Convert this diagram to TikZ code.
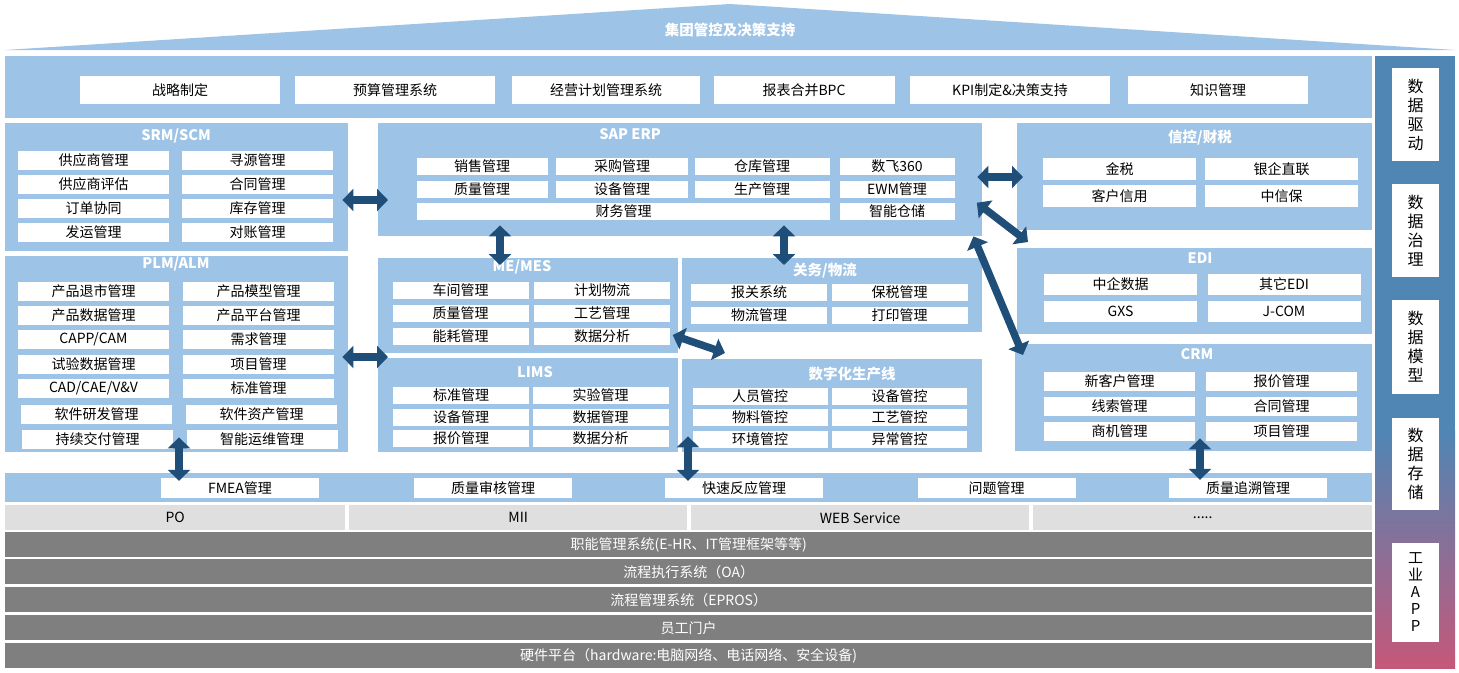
\documentclass[tikz,border=0pt]{standalone}
\usepackage{fontspec}
\setmainfont{Noto Sans CJK SC}
\usetikzlibrary{arrows.meta}

\definecolor{panelblue}{HTML}{9DC3E6}
\definecolor{arrowblue}{HTML}{1F4E79}
\definecolor{colblue}{HTML}{4F86B4}
\definecolor{colpink}{HTML}{C5587A}
\definecolor{ifgray}{HTML}{DFDFDF}
\definecolor{bargray}{HTML}{7F7F7F}

\newcommand{\cellfont}{\fontsize{14}{15}\selectfont}
\newcommand{\tip}{Triangle[length=11pt,width=22pt]}

\tikzset{
  panel/.style={fill=panelblue, inner sep=0pt, anchor=north west},
  ttl/.style={text=white, inner sep=0pt, font=\fontsize{14.5}{16}\selectfont\bfseries},
  cell/.style={fill=white, inner sep=0pt, font=\cellfont},
  vcell/.style={fill=white, inner sep=0pt, minimum width=47pt, align=center,
    font=\fontsize{16}{19}\selectfont},
  iface/.style={fill=ifgray, inner sep=0pt, anchor=north west, minimum height=25pt,
    font=\fontsize{14}{16}\selectfont},
  layer/.style={fill=bargray, inner sep=0pt, anchor=north west, minimum width=1367pt,
    minimum height=25pt, text=white, font=\fontsize{14}{16}\selectfont},
  link/.style={draw=arrowblue, fill=arrowblue, line width=7.5pt, arrows={\tip-\tip}}
}

\begin{document}
\begin{tikzpicture}[x=1pt,y=-1pt]
  \useasboundingbox (0,0) rectangle (1459,672);

  % roof
  \fill[panelblue] (5,50) -- (730,4) -- (1455,50) -- cycle;
  \node[ttl] (roof) at (730,30) {集团管控及决策支持};

  % strategy bar
  \node[panel, minimum width=1367pt, minimum height=62pt] (strat) at (5,56) {};
  \foreach \n/\x/\w/\t in {1/180/200/战略制定, 2/395/200/预算管理系统, 3/606/188/经营计划管理系统,
      4/804/181/报表合并BPC, 5/1010/200/KPI制定\&决策支持, 6/1218/180/知识管理}
    \node[cell, minimum width=\w pt, minimum height=28pt] (st\n) at (\x,90) {\t};

  % data column
  \fill[colblue] (1375,56) rectangle (1455,430);
  \shade[top color=colblue, bottom color=colpink] (1375,430) rectangle (1455,668);
  \node[vcell, minimum height=93pt] (drv) at (1415.5,114.5) {数\\据\\驱\\动};
  \node[vcell, minimum height=93pt] (gov) at (1415.5,230.5) {数\\据\\治\\理};
  \node[vcell, minimum height=94pt] (mdl) at (1415.5,347) {数\\据\\模\\型};
  \node[vcell, minimum height=92pt] (sto) at (1415.5,464) {数\\据\\存\\储};
  \node[vcell, minimum height=99pt, font=\fontsize{15}{17}\selectfont] (app) at (1415.5,592.5) {工\\业\\A\\P\\P};

  % SRM/SCM
  \node[panel, minimum width=343pt, minimum height=128pt] (srm) at (5,123) {};
  \node[ttl] (srmT) at (176,136) {SRM/SCM};
  \foreach \n/\x/\y/\t in {1/93.5/160.5/供应商管理, 2/257.5/160.5/寻源管理,
      3/93.5/184/供应商评估, 4/257.5/184/合同管理, 5/93.5/208.5/订单协同, 6/257.5/208.5/库存管理,
      7/93.5/232.5/发运管理, 8/257.5/232.5/对账管理}
    \node[cell, minimum width=151pt, minimum height=19pt] (srm\n) at (\x,\y) {\t};

  % PLM/ALM
  \node[panel, minimum width=343pt, minimum height=196pt] (plm) at (5,256) {};
  \node[ttl] (plmT) at (176,264) {PLM/ALM};
  \foreach \n/\x/\y/\t in {1/93.5/291/产品退市管理, 2/258.5/291/产品模型管理,
      3/93.5/315.5/产品数据管理, 4/258.5/315.5/产品平台管理, 5/93.5/339.5/{CAPP/CAM}, 6/258.5/339.5/需求管理,
      7/93.5/364/试验数据管理, 8/258.5/364/项目管理, 9/93.5/388.5/{CAD/CAE/V\&V}, 10/258.5/388.5/标准管理,
      11/96.5/414/软件研发管理, 12/261.5/414/软件资产管理, 13/97.5/439.5/持续交付管理, 14/262/439.5/智能运维管理}
    \node[cell, minimum width=151pt, minimum height=19pt] (plm\n) at (\x,\y) {\t};

  % SAP ERP
  \node[panel, minimum width=604pt, minimum height=113pt] (erp) at (378,123) {};
  \node[ttl] (erpT) at (630,134) {SAP ERP};
  \foreach \n/\x/\y/\w/\t in {1/482/166/131/销售管理, 2/622/166/132/采购管理, 3/762/166/135/仓库管理,
      4/897/166/115/数飞360, 5/482/189/131/质量管理, 6/622/189/132/设备管理, 7/762/189/135/生产管理,
      8/897/189/115/EWM管理, 9/623.5/211.5/413/财务管理, 10/897/211.5/115/智能仓储}
    \node[cell, minimum width=\w pt, minimum height=17pt] (erp\n) at (\x,\y) {\t};

  % ME/MES
  \node[panel, minimum width=300pt, minimum height=95pt] (mes) at (378,258) {};
  \node[ttl] (mesT) at (522,267) {ME/MES};
  \foreach \n/\x/\y/\t in {1/460.5/290.5/车间管理, 2/602/290.5/计划物流, 3/460.5/313.5/质量管理,
      4/602/313.5/工艺管理, 5/460.5/336.5/能耗管理, 6/602/336.5/数据分析}
    \node[cell, minimum width=136pt, minimum height=17pt] (mes\n) at (\x,\y) {\t};

  % customs / logistics
  \node[panel, minimum width=300pt, minimum height=74pt] (cus) at (682,258) {};
  \node[ttl] (cusT) at (825,271) {关务/物流};
  \foreach \n/\x/\y/\t in {1/759/292.5/报关系统, 2/899.5/292.5/保税管理, 3/759/315/物流管理, 4/899.5/315/打印管理}
    \node[cell, minimum width=136pt, minimum height=17pt] (cus\n) at (\x,\y) {\t};

  % LIMS
  \node[panel, minimum width=300pt, minimum height=94pt] (lims) at (378,358) {};
  \node[ttl] (limsT) at (535,372) {LIMS};
  \foreach \n/\x/\y/\t in {1/461/395.5/标准管理, 2/600.5/395.5/实验管理, 3/461/417.5/设备管理,
      4/600.5/417.5/数据管理, 5/461/438.5/报价管理, 6/600.5/438.5/数据分析}
    \node[cell, minimum width=136pt, minimum height=17pt] (lims\n) at (\x,\y) {\t};

  % digital line
  \node[panel, minimum width=300pt, minimum height=93pt] (dig) at (682,359) {};
  \node[ttl] (digT) at (852,374) {数字化生产线};
  \foreach \n/\x/\y/\t in {1/760/396/人员管控, 2/899.5/396/设备管控, 3/760/417.5/物料管控,
      4/899.5/417.5/工艺管控, 5/760/439/环境管控, 6/899.5/439/异常管控}
    \node[cell, minimum width=135pt, minimum height=17pt] (dig\n) at (\x,\y) {\t};

  % credit / tax
  \node[panel, minimum width=355pt, minimum height=107pt] (fin) at (1017,123) {};
  \node[ttl] (finT) at (1200,138) {信控/财税};
  \foreach \n/\x/\y/\t in {1/1119.5/169/金税, 2/1281.5/169/银企直联, 3/1119.5/196/客户信用, 4/1281.5/196/中信保}
    \node[cell, minimum width=153pt, minimum height=22pt] (fin\n) at (\x,\y) {\t};

  % EDI
  \node[panel, minimum width=355pt, minimum height=86pt] (edi) at (1017,248) {};
  \node[ttl] (ediT) at (1200,258) {EDI};
  \foreach \n/\x/\y/\t in {1/1120.5/284/中企数据, 2/1284/284/其它EDI, 3/1120.5/311.5/GXS, 4/1284/311.5/J-COM}
    \node[cell, minimum width=153pt, minimum height=21pt] (edi\n) at (\x,\y) {\t};

  % CRM
  \node[panel, minimum width=357pt, minimum height=107pt] (crm) at (1015,344) {};
  \node[ttl] (crmT) at (1197,354) {CRM};
  \foreach \n/\x/\y/\t in {1/1119.5/381.5/新客户管理, 2/1281.5/381.5/报价管理, 3/1119.5/406.5/线索管理,
      4/1281.5/406.5/合同管理, 5/1119.5/431/商机管理, 6/1281.5/431/项目管理}
    \node[cell, minimum width=151pt, minimum height=19pt] (crm\n) at (\x,\y) {\t};

  % quality bar
  \node[panel, minimum width=1367pt, minimum height=29pt] (qual) at (5,473) {};
  \foreach \n/\x/\t in {fmea/240/FMEA管理, aud/493/质量审核管理, qrm/744/快速反应管理,
      iss/996.5/问题管理, trc/1248/质量追溯管理}
    \node[cell, minimum width=158pt, minimum height=20pt] (\n) at (\x,488) {\t};

  % interfaces
  \node[iface, minimum width=340pt] (po) at (5,505) {PO};
  \node[iface, minimum width=338pt] (mii) at (349,505) {MII};
  \node[iface, minimum width=338pt] (web) at (691,505) {WEB Service};
  \node[iface, minimum width=339pt] (etc) at (1033,505) {.....};

  % platform layers
  \node[layer] (lay1) at (5,532) {职能管理系统(E-HR、IT管理框架等等)};
  \node[layer] (lay2) at (5,559) {流程执行系统（OA）};
  \node[layer] (lay3) at (5,587) {流程管理系统（EPROS）};
  \node[layer] (lay4) at (5,615) {员工门户};
  \node[layer] (lay5) at (5,643) {硬件平台（hardware:电脑网络、电话网络、安全设备)};

  % links
  \draw[link, shorten <=-6pt, shorten >=-10pt] (srm.east |- 0,200) -- (erp.west |- 0,200);
  \draw[link, shorten <=-6pt, shorten >=-10pt] (plm.east |- 0,357) -- (mes.west |- 0,357);
  \draw[link, shorten <=-11pt, shorten >=-7pt] (erp.south -| 500,0) -- (mes.north -| 500,0);
  \draw[link, shorten <=-11pt, shorten >=-7pt] (erp.south -| 784,0) -- (cus.north -| 784,0);
  \draw[link, shorten <=-5pt, shorten >=-6pt] (erp.east |- 0,177) -- (fin.west |- 0,177);
  \draw[link, shorten <=-7pt] (erp.east |- 0,207) -- ([shift={(11,-6)}]edi.north west);
  \draw[link] ([xshift=-9pt]erp.south east) -- ([shift={(8,11)}]crm.north west);
  \draw[link, shorten <=-6pt] (mes.east |- 0,337) -- ([shift={(43,-6)}]dig.north west);
  \draw[link, shorten <=-15pt, shorten >=-3pt] (plm.south -| 179,0) -- (fmea.north -| 179,0);
  \draw[link, shorten <=-16pt, shorten >=-3pt] (dig.south -| 688,0) -- (qrm.north -| 688,0);
  \draw[link, shorten <=-13pt, shorten >=-2pt] (crm.south -| 1200,0) -- (trc.north -| 1200,0);
\end{tikzpicture}
\end{document}
